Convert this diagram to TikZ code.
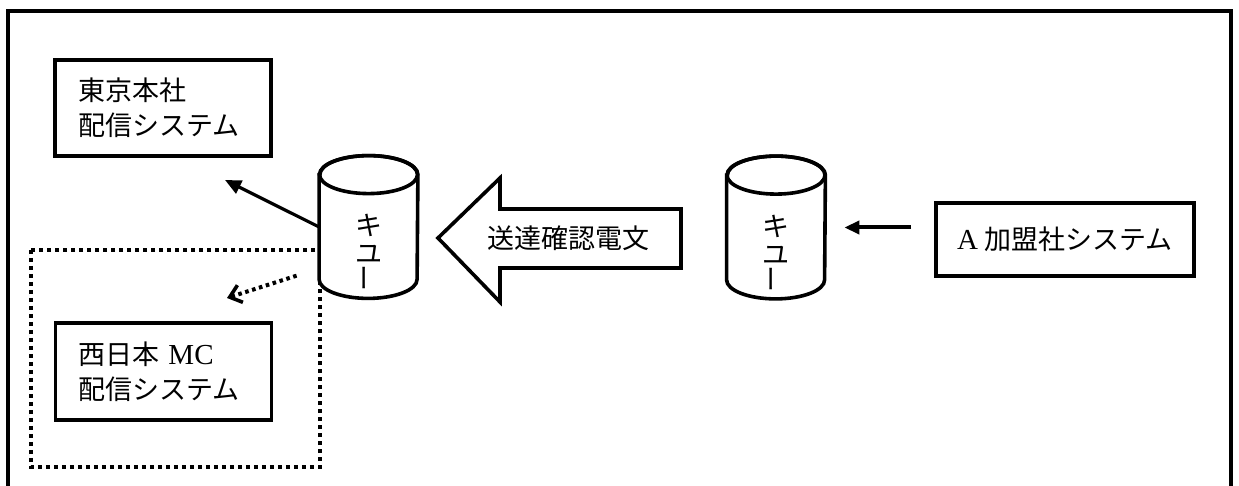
\documentclass[tikz,border=0pt]{standalone}
\usepackage{fontspec}
\setmainfont{Liberation Serif}
\newfontfamily\jp{Noto Sans CJK JP}
\usepackage{graphicx}
\usepackage{tikz}
\usetikzlibrary{positioning, calc, arrows.meta, shapes.geometric}

\tikzstyle{System} = [draw, line width=1.9pt, align=left, inner ysep=0pt,
font=\fontsize{13.5pt}{17.5pt}\selectfont]
\tikzstyle{Queue} = [minimum width=49pt, minimum height=71pt, inner sep=0pt]
\tikzstyle{QueueText} = [align=center, inner sep=0pt,
font=\fontsize{13.5pt}{14pt}\selectfont\jp]
\tikzstyle{Arrow} = [line width=1.6pt, -{Triangle[length=8pt, width=7pt]}]
\tikzstyle{DotArrow} = [line width=2pt, dash pattern=on 1.8pt off 1.8pt,
-{Straight Barb[length=5.5pt, width=9pt, line width=1.8pt]}]

% drum drawn round a Queue node
\newcommand{\QueueDrum}[1]{%
  \draw[line width=1.8pt, fill=white]
    ($(#1.north west)+(0,19)$) -- ($(#1.south west)+(0,-19)$)
    arc[start angle=180, end angle=360, x radius=24.5pt, y radius=9.5pt]
    -- ($(#1.north east)+(0,19)$)
    arc[start angle=0, end angle=180, x radius=24.5pt, y radius=9.5pt] -- cycle;
  \draw[line width=1.8pt] ($(#1.north)+(0,19)$) ellipse [x radius=24.5pt, y radius=9.5pt];
}

\begin{document}
\begin{tikzpicture}[x=0.5pt, y=-0.5pt]
    \useasboundingbox (0,0) rectangle (1239,486);
    \draw[line width=1.6pt] (8,492) -- (8,11) -- (1231,11) -- (1231,492);

    % west japan area
    \draw[line width=2pt, dash pattern=on 1.8pt off 2.2pt] (31,250) rectangle (320,467);

    \node[System, text width=85pt, inner xsep=11.5pt, minimum height=48pt] (tokyo) at (163,108)
        {{\jp 東京本社}\\{\jp 配信システム}};
    \node[System, text width=85pt, inner xsep=11.5pt, minimum height=48.5pt] (west) at (163.5,371.5)
        {{\jp 西日本} {\fontsize{14.5pt}{17.5pt}\selectfont MC}\\{\jp 配信システム}};
    \node[System, align=center, minimum width=129pt, minimum height=36.5pt] (member) at (1065,239.5)
        {{\fontsize{14.5pt}{17.5pt}\selectfont A} {\jp 加盟社システム}};

    \node[Queue] (q1) at (368.5,227) {};
    \node[Queue] (q2) at (776,227.5) {};
    \QueueDrum{q1}
    \QueueDrum{q2}
    \node[QueueText] (q1t) at ($(q1)+(0,26)$) {キ\\ユ\\\rotatebox{90}{ー}};
    \node[QueueText] (q2t) at ($(q2)+(0,26)$) {キ\\ユ\\\rotatebox{90}{ー}};

    % acknowledgement
    \draw[line width=1.8pt] (438,238) -- (500,178) -- (500,209) -- (681,209)
        -- (681,268) -- (500,268) -- (500,302) -- cycle;
    \node[font=\fontsize{13.5pt}{17.5pt}\selectfont\jp] (ack) at (568,238) {送達確認電文};

    \coordinate (tokyoin) at (225,180);
    \coordinate (westin) at (227,298);
    \draw[Arrow] (q1.west) -- (tokyoin);
    \draw[DotArrow, shorten <=11.8pt] (q1.220) -- (westin);
    \draw[Arrow, line width=2pt, -{Triangle[length=7.5pt, width=6.5pt]},
        shorten <=11.5pt, shorten >=9.5pt] (member.west |- q2.east) -- (q2.east);
\end{tikzpicture}
\end{document}
